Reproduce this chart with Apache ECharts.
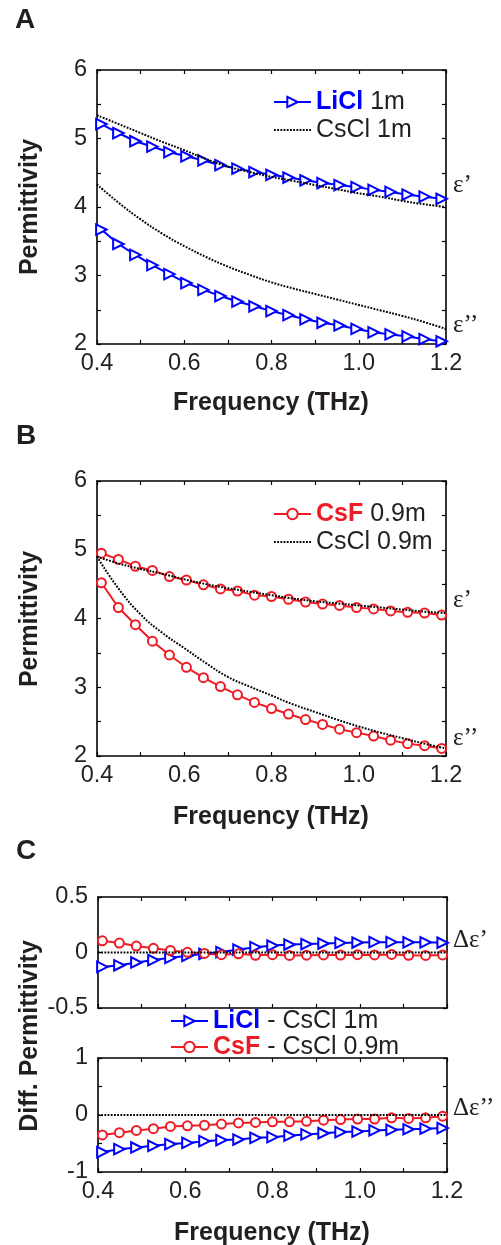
<!DOCTYPE html>
<html>
<head>
<meta charset="utf-8">
<title>Permittivity of salt solutions</title>
<script src="https://cdn.jsdelivr.net/npm/echarts@6/dist/echarts.min.js"></script>
<style>
  html, body { margin: 0; padding: 0; background: #fff; }
  #main { width: 501px; height: 1245px; }
</style>
</head>
<body>
<div id="main"></div>
<script>
// marker frequencies (THz), same for every panel
const freq = [0.410, 0.449, 0.488, 0.527, 0.566, 0.605, 0.644, 0.683, 0.722, 0.761, 0.800,
  0.839, 0.878, 0.917, 0.956, 0.995, 1.034, 1.073, 1.112, 1.151, 1.190];
// frequencies of the dotted CsCl reference curves
const refFreq = [0.40, 0.45, 0.50, 0.55, 0.60, 0.65, 0.70, 0.75, 0.80, 0.85, 0.90, 0.95,
  1.00, 1.05, 1.10, 1.15, 1.20];

// panel A
const liclReal = [5.21, 5.08, 4.96, 4.88, 4.80, 4.74, 4.68, 4.61, 4.56, 4.51, 4.47, 4.43, 4.39, 4.35, 4.32, 4.29, 4.25, 4.22, 4.18, 4.15, 4.12];
const liclImag = [3.67, 3.46, 3.30, 3.15, 3.02, 2.89, 2.79, 2.70, 2.62, 2.55, 2.48, 2.42, 2.36, 2.31, 2.27, 2.22, 2.17, 2.14, 2.11, 2.07, 2.04];
const cscl1Real = [5.34, 5.21, 5.08, 4.95, 4.83, 4.70, 4.59, 4.51, 4.44, 4.38, 4.32, 4.26, 4.20, 4.15, 4.09, 4.04, 4.00];
const cscl1Imag = [4.33, 4.06, 3.82, 3.61, 3.43, 3.27, 3.13, 3.01, 2.90, 2.81, 2.73, 2.65, 2.57, 2.49, 2.41, 2.32, 2.22];

// panel B
const csfReal = [4.95, 4.86, 4.76, 4.70, 4.61, 4.56, 4.49, 4.43, 4.40, 4.34, 4.32, 4.28, 4.24, 4.21, 4.19, 4.16, 4.14, 4.11, 4.09, 4.08, 4.05];
const csfImag = [4.52, 4.16, 3.91, 3.67, 3.47, 3.29, 3.14, 3.01, 2.89, 2.78, 2.69, 2.61, 2.53, 2.46, 2.39, 2.34, 2.29, 2.23, 2.18, 2.15, 2.11];
const cscl09Real = [4.90, 4.80, 4.72, 4.65, 4.57, 4.50, 4.44, 4.39, 4.34, 4.29, 4.25, 4.22, 4.19, 4.16, 4.13, 4.10, 4.08];
const cscl09Imag = [4.90, 4.43, 4.06, 3.79, 3.57, 3.35, 3.15, 3.01, 2.88, 2.75, 2.64, 2.53, 2.43, 2.34, 2.26, 2.18, 2.11];

// panel C (differences to CsCl)
const liclDiffReal = [-0.13, -0.115, -0.09, -0.068, -0.048, -0.03, -0.012, 0.004, 0.026, 0.048, 0.062, 0.072, 0.076, 0.081, 0.086, 0.09, 0.093, 0.093, 0.092, 0.092, 0.088];
const csfDiffReal = [0.105, 0.085, 0.058, 0.038, 0.018, 0.002, -0.008, -0.02, -0.012, -0.025, -0.02, -0.026, -0.024, -0.022, -0.023, -0.02, -0.022, -0.017, -0.025, -0.026, -0.022];
const liclDiffImag = [-0.65, -0.60, -0.57, -0.54, -0.51, -0.49, -0.46, -0.44, -0.43, -0.40, -0.39, -0.36, -0.34, -0.32, -0.30, -0.29, -0.27, -0.26, -0.25, -0.24, -0.23];
const csfDiffImag = [-0.35, -0.31, -0.27, -0.24, -0.20, -0.19, -0.18, -0.16, -0.14, -0.13, -0.12, -0.12, -0.11, -0.09, -0.08, -0.07, -0.07, -0.05, -0.06, -0.05, -0.02];
const zeroFreq = [0.4, 1.2];
const zeroVals = [0, 0];

// tick labels
const xTickLabels = ['0.4', '0.6', '0.8', '1.0', '1.2'];
const yTicksAB = [2, 3, 4, 5, 6];
const yTicksC1 = [-0.5, 0, 0.5];
const yTicksC2 = [-1, 0, 1];

const BLUE = '#0000ff';
const RED = '#ee1c25';
const INK = '#231f20';
const SANS = '"Liberation Sans", Arial, Helvetica, sans-serif';
const SERIF = '"Liberation Serif", "DejaVu Serif", serif';

function pair(xs, ys) {
  return xs.map((x, i) => [x, ys[i]]);
}

const grids = [
  { left: 97, top: 70, width: 349, height: 274 },
  { left: 97, top: 481, width: 349, height: 275 },
  { left: 98, top: 897, width: 349, height: 111 },
  { left: 98, top: 1058, width: 349, height: 114 }
];

const axisLine = { onZero: false, lineStyle: { color: '#000', width: 1.6 } };
const axisTick = { inside: true, length: 4, lineStyle: { color: '#000', width: 1.2 } };

let xAxis = [];
let yAxis = [];
grids.forEach((g, gi) => {
  const showX = gi !== 2;
  xAxis.push({
    type: 'value', gridIndex: gi, min: 0.4, max: 1.2, interval: 0.1, position: 'bottom',
    axisLine: axisLine, axisTick: axisTick, splitLine: { show: false },
    axisLabel: {
      show: showX, margin: 8, color: INK, fontSize: 23.5, fontFamily: SANS,
      formatter: v => {
        const s = v.toFixed(1);
        return xTickLabels.indexOf(s) >= 0 ? s : '';
      }
    }
  });
  xAxis.push({
    type: 'value', gridIndex: gi, min: 0.4, max: 1.2, interval: 0.1, position: 'top',
    axisLine: axisLine, axisTick: axisTick, splitLine: { show: false }, axisLabel: { show: false }
  });
  let yMin = 2, yMax = 6, labels = yTicksAB;
  if (gi === 2) { yMin = -0.5; yMax = 0.5; labels = yTicksC1; }
  if (gi === 3) { yMin = -1; yMax = 1; labels = yTicksC2; }
  yAxis.push({
    type: 'value', gridIndex: gi, min: yMin, max: yMax, interval: 0.5, position: 'left',
    axisLine: axisLine, axisTick: axisTick, splitLine: { show: false },
    axisLabel: {
      margin: 10, color: INK, fontSize: 23.5, fontFamily: SANS,
      formatter: v => {
        const r = Math.round(v * 10) / 10;
        return labels.indexOf(r) >= 0 ? String(r) : '';
      }
    }
  });
  yAxis.push({
    type: 'value', gridIndex: gi, min: yMin, max: yMax, interval: 0.5, position: 'right',
    axisLine: axisLine, axisTick: axisTick, splitLine: { show: false }, axisLabel: { show: false }
  });
});

function markerLine(name, color, symbol, gi, xs, ys) {
  const s = {
    name: name, type: 'line', xAxisIndex: gi * 2, yAxisIndex: gi * 2,
    data: pair(xs, ys), symbol: symbol, symbolSize: symbol === 'emptyCircle' ? 9 : 10.5,
    showAllSymbol: true,
    lineStyle: { color: color, width: 2 },
    itemStyle: { color: color, borderWidth: 1.8 },
    z: 3
  };
  if (symbol === 'emptyTriangle') s.symbolRotate = -90;
  return s;
}

function dotted(name, gi, xs, ys, smooth) {
  return {
    name: name, type: 'line', xAxisIndex: gi * 2, yAxisIndex: gi * 2,
    data: pair(xs, ys), symbol: 'none', smooth: smooth,
    lineStyle: { color: '#000', width: 2, type: [1.8, 1.4] },
    itemStyle: { color: '#000' },
    z: 4
  };
}

const series = [
  markerLine('LiCl 1m', BLUE, 'emptyTriangle', 0, freq, liclReal),
  markerLine('LiCl 1m', BLUE, 'emptyTriangle', 0, freq, liclImag),
  dotted('CsCl 1m', 0, refFreq, cscl1Real, true),
  dotted('CsCl 1m', 0, refFreq, cscl1Imag, true),

  markerLine('CsF 0.9m', RED, 'emptyCircle', 1, freq, csfReal),
  markerLine('CsF 0.9m', RED, 'emptyCircle', 1, freq, csfImag),
  dotted('CsCl 0.9m', 1, refFreq, cscl09Real, true),
  dotted('CsCl 0.9m', 1, refFreq, cscl09Imag, true),

  dotted('zero1', 2, zeroFreq, zeroVals, false),
  markerLine('LiCl - CsCl 1m', BLUE, 'emptyTriangle', 2, freq, liclDiffReal),
  markerLine('CsF - CsCl 0.9m', RED, 'emptyCircle', 2, freq, csfDiffReal),

  dotted('zero2', 3, zeroFreq, zeroVals, false),
  markerLine('LiCl - CsCl 1m', BLUE, 'emptyTriangle', 3, freq, liclDiffImag),
  markerLine('CsF - CsCl 0.9m', RED, 'emptyCircle', 3, freq, csfDiffImag)
];

const legendText = {
  'LiCl 1m': '{li|LiCl} 1m',
  'CsCl 1m': 'CsCl 1m',
  'CsF 0.9m': '{cs|CsF} 0.9m',
  'CsCl 0.9m': 'CsCl 0.9m',
  'LiCl - CsCl 1m': '{li|LiCl} - CsCl 1m',
  'CsF - CsCl 0.9m': '{cs|CsF} - CsCl 0.9m'
};

// dotted reference lines get a plain dotted legend line, no marker
function dottedEntry(name) {
  return { name: name, itemStyle: { opacity: 0 } };
}

function legend(names, left, top, lineH) {
  return {
    data: names, orient: 'vertical', left: left, top: top, padding: 0, itemGap: 0,
    itemWidth: 37, itemHeight: 13, selectedMode: false,
    formatter: n => legendText[n],
    textStyle: {
      color: INK, fontSize: 25, fontFamily: SANS, lineHeight: lineH,
      rich: {
        li: { color: BLUE, fontWeight: 'bold', fontSize: 25, fontFamily: SANS, lineHeight: lineH },
        cs: { color: RED, fontWeight: 'bold', fontSize: 25, fontFamily: SANS, lineHeight: lineH }
      }
    }
  };
}

function label(text, x, y, font, opts) {
  return Object.assign({
    type: 'text', x: x, y: y,
    style: { text: text, font: font, fill: INK, align: 'left', verticalAlign: 'middle' }
  }, opts || {});
}

const titleFont = 'bold 25px ' + SANS;
const epsFont = '25px ' + SERIF;
const graphic = [
  label('A', 15, 20, 'bold 28px ' + SANS),
  label('B', 16, 436, 'bold 28px ' + SANS),
  label('C', 16, 851, 'bold 28px ' + SANS),
  label('Permittivity', 30, 207, titleFont, { rotation: Math.PI / 2 }),
  label('Permittivity', 30, 619, titleFont, { rotation: Math.PI / 2 }),
  label('Diff. Permittivity', 30, 1036, titleFont, { rotation: Math.PI / 2 }),
  label('Frequency (THz)', 271, 403, titleFont),
  label('Frequency (THz)', 271, 817, titleFont),
  label('Frequency (THz)', 272, 1233, titleFont),
  label('\u03b5\u2019', 453, 185, epsFont),
  label('\u03b5\u2019\u2019', 453, 325, epsFont),
  label('\u03b5\u2019', 453, 600, epsFont),
  label('\u03b5\u2019\u2019', 453, 738, epsFont),
  label('\u0394\u03b5\u2019', 453, 940, epsFont),
  label('\u0394\u03b5\u2019\u2019', 453, 1108, epsFont)
];
// the rotated and axis titles are centred on their point
[3, 4, 5, 6, 7, 8].forEach(i => { graphic[i].style.align = 'center'; });

const chart = echarts.init(document.getElementById('main'), null, { renderer: 'canvas' });
chart.setOption({
  animation: false,
  backgroundColor: '#fff',
  grid: grids,
  xAxis: xAxis,
  yAxis: yAxis,
  legend: [
    legend(['LiCl 1m', dottedEntry('CsCl 1m')], 273, 88, 28),
    legend(['CsF 0.9m', dottedEntry('CsCl 0.9m')], 273, 500, 28),
    legend(['LiCl - CsCl 1m', 'CsF - CsCl 0.9m'], 170, 1008, 26)
  ],
  series: series,
  graphic: graphic
});
</script>
</body>
</html>
